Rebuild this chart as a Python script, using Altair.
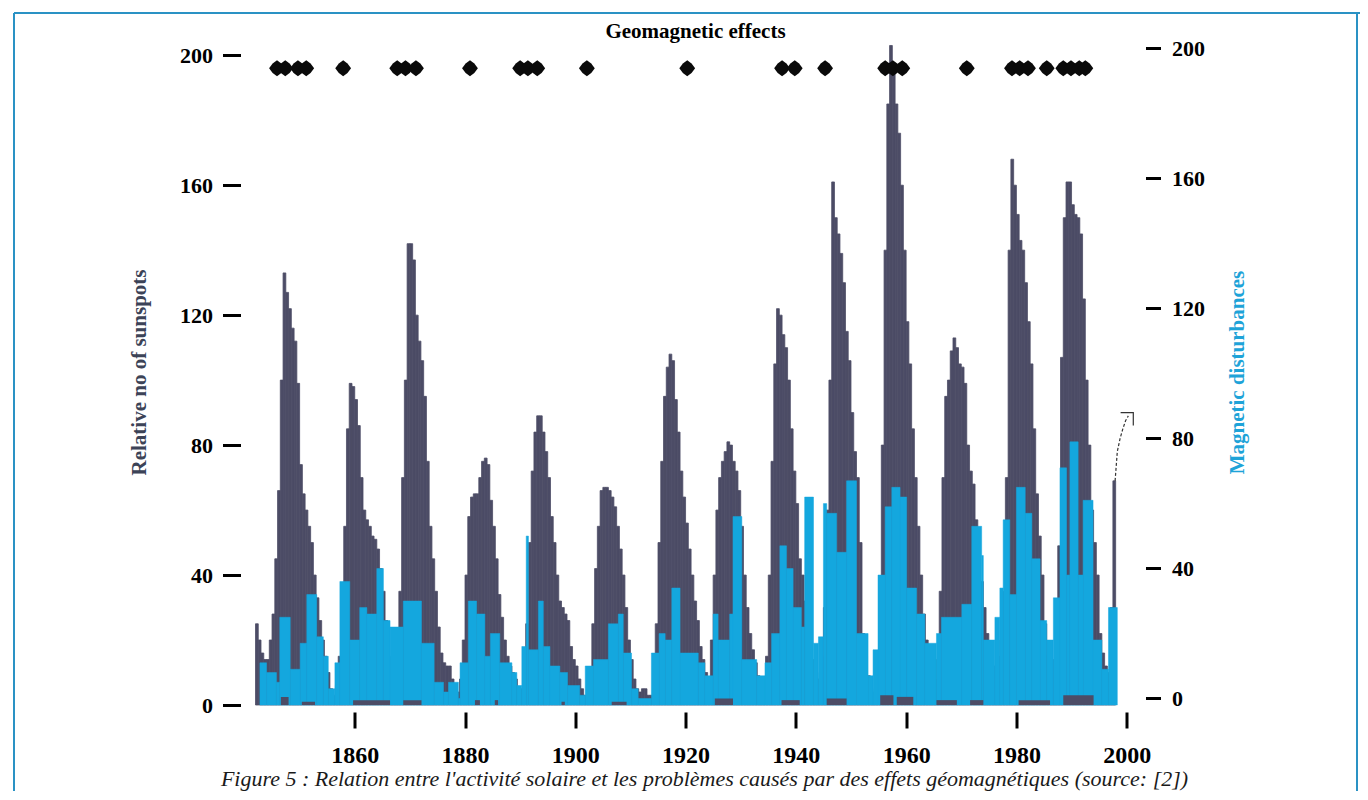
import altair as alt
import pandas as pd

SERIF = "Liberation Serif"
DARK = "#4c4c66"
CYAN = "#14a7de"
FRAME = "#2a92c4"

# Relative sunspot number, half-year steps starting 1842.0
SUN_START = 1842.0
SUN_STEP = 0.5
SUNSPOTS = [
    25, 20, 16, 14, 14, 20, 28, 45, 66, 100,        # 1842-1846.5
    133, 127, 122, 116, 112, 99, 74, 65, 60, 55,    # 1847
    50, 40, 33, 26, 20, 15, 10, 5, 3, 6,            # 1852
    15, 30, 55, 85, 99, 98, 94, 86, 70, 60,         # 1857
    57, 55, 52, 51, 48, 42, 35, 26, 15, 8,          # 1862
    6, 15, 35, 70, 100, 142, 142, 137, 120, 112,    # 1867
    106, 95, 75, 55, 45, 35, 24, 16, 13, 12,        # 1872
    12, 8, 4, 4, 8, 20, 40, 58, 64, 65,             # 1877
    65, 70, 75, 76, 74, 63, 55, 45, 34, 27,         # 1882
    20, 15, 12, 10, 8, 5, 5, 8, 25, 50,             # 1887
    72, 84, 89, 89, 84, 78, 70, 58, 50, 40,         # 1892
    32, 30, 28, 26, 18, 14, 12, 8, 5, 3,            # 1897
    3, 10, 25, 42, 55, 66, 67, 67, 66, 64,          # 1902
    61, 55, 48, 40, 30, 20, 14, 8, 5, 4,            # 1907
    5, 5, 3, 3, 12, 25, 50, 75, 95, 104,            # 1912
    108, 106, 94, 84, 72, 64, 56, 48, 40, 32,       # 1917
    26, 18, 14, 10, 8, 20, 40, 60, 70, 75,          # 1922
    78, 81, 80, 75, 72, 66, 55, 40, 30, 22,         # 1927
    17, 13, 9, 5, 6, 15, 40, 75, 105, 122,          # 1932
    120, 114, 110, 100, 85, 72, 62, 45, 40, 32,     # 1937
    25, 18, 14, 10, 8, 15, 30, 60, 100, 161,        # 1942
    150, 145, 139, 130, 115, 106, 90, 78, 70, 50,   # 1947
    22, 15, 9, 5, 4, 10, 30, 80, 140, 185,          # 1952
    203, 195, 185, 176, 160, 140, 118, 105, 85, 70, # 1957
    55, 40, 28, 20, 14, 10, 8, 14, 35, 70,          # 1962
    95, 100, 109, 113, 110, 105, 104, 99, 80, 72,   # 1967
    68, 57, 45, 38, 30, 22, 15, 12, 12, 15,         # 1972
    20, 35, 70, 140, 168, 160, 151, 143, 140, 130,  # 1977
    118, 105, 85, 65, 52, 40, 25, 15, 12, 14,       # 1982
    28, 49, 107, 150, 161, 161, 154, 151, 150, 145, # 1987
    125, 100, 80, 60, 50, 40, 22, 16, 12, 10,       # 1992
    30, 69,                                         # 1997
]

# Magnetic disturbances: step edges (years) and level of each step
CYAN_EDGES = [
    1842.8, 1844.0, 1845.8, 1846.4, 1848.3, 1850.1, 1851.3, 1853.1, 1854.3, 1855.2,
    1856.4, 1857.3, 1859.1, 1860.9, 1862.2, 1864.0, 1865.2, 1866.4, 1868.8, 1872.1,
    1874.4, 1876.1, 1877.0, 1878.8, 1879.1, 1880.6, 1882.1, 1883.6, 1884.6, 1886.3,
    1888.5, 1889.4, 1890.3, 1891.1, 1891.5, 1893.3, 1894.2, 1895.4, 1897.2, 1898.6,
    1900.8, 1901.8, 1903.3, 1906.0, 1907.8, 1908.7, 1910.2, 1911.4, 1913.8, 1915.2,
    1916.3, 1917.5, 1919.0, 1922.3, 1923.5, 1925.0, 1925.9, 1928.0, 1928.6, 1930.2,
    1932.9, 1934.4, 1935.6, 1937.1, 1938.3, 1939.5, 1941.0, 1941.6, 1943.2, 1944.1,
    1945.0, 1945.6, 1947.4, 1949.2, 1951.0, 1953.1, 1954.0, 1954.9, 1956.2, 1957.4,
    1958.9, 1960.1, 1961.9, 1963.4, 1965.5, 1966.4, 1970.1, 1971.9, 1973.7, 1974.0,
    1976.1, 1977.0, 1977.6, 1978.8, 1980.0, 1981.6, 1982.8, 1984.3, 1985.5, 1986.7,
    1987.9, 1989.1, 1989.7, 1991.2, 1992.1, 1993.9, 1995.5, 1996.7, 1998.3,
]
CYAN_VALUES = [
    13, 10, 7, 27, 11, 19, 34, 21, 15, 5,
    13, 38, 20, 30, 28, 42, 26, 24, 32, 19,
    7, 4, 7, 2, 13, 32, 28, 15, 22, 13,
    10, 6, 18, 52, 17, 32, 18, 12, 10, 6,
    3, 12, 14, 25, 28, 16, 5, 2, 16, 22,
    20, 36, 16, 13, 9, 28, 20, 28, 58, 14,
    9, 13, 22, 49, 42, 30, 24, 64, 19, 21,
    62, 59, 47, 69, 22, 9, 17, 40, 61, 67,
    64, 36, 28, 19, 22, 27, 31, 55, 46, 20,
    27, 36, 57, 34, 67, 59, 45, 26, 20, 33,
    73, 40, 81, 40, 63, 20, 11, 30,
]

# small dark steps at the foot of the cyan bars
BASE_FROM = [1846.6, 1850.4, 1859.7, 1868.8, 1881.8, 1885.4, 1897.5, 1906.6, 1925.3,
             1937.4, 1945.6, 1955.3, 1958.3, 1965.5, 1971.6, 1980.4, 1988.5]
BASE_TO = [1848.0, 1852.8, 1866.4, 1872.1, 1882.7, 1886.0, 1898.1, 1909.3, 1928.6,
           1940.7, 1949.2, 1957.7, 1961.3, 1969.2, 1974.0, 1986.1, 1994.0]
BASE_VALUE = [2.5, 1, 1.5, 1.5, 1.5, 1.5, 1, 1, 2, 1.5, 2, 3, 2.5, 1.5, 1.5, 1.5, 3]

# geomagnetic effects (years of events), drawn at one level
EFFECT_YEARS = [1845.9, 1847.4, 1849.7, 1851.2, 1857.9, 1867.7, 1869.2, 1871.1,
                1880.9, 1890.0, 1891.4, 1893.1, 1902.1, 1920.3, 1937.5, 1939.8,
                1945.3, 1956.2, 1957.6, 1959.3, 1971.0, 1979.2, 1980.6, 1982.1,
                1985.5, 1988.5, 1989.9, 1991.4, 1992.5]
EFFECT_LEVEL = 196

# forecast trace at the right end
FORECAST_YEARS = [1997.9, 1998.3, 1998.8, 1999.3, 1999.8, 2000.3]
FORECAST_VALUES = [69, 78, 82, 85, 87.5, 89]
HOOK_YEARS = [1998.9, 2001.2, 2001.2]
HOOK_VALUES = [90, 90, 86]

X_TICKS = [1860, 1880, 1900, 1920, 1940, 1960, 1980, 2000]
Y_TICKS = [0, 40, 80, 120, 160, 200]

TITLE_TEXT = "Geomagnetic effects"
CAPTION = ("Figure 5 : Relation entre l'activité solaire et les problèmes causés "
           "par des effets géomagnétiques (source: [2])")

W, H = 880, 666

sun_df = pd.DataFrame({
    "t": [SUN_START + i * SUN_STEP for i in range(len(SUNSPOTS))],
    "v": SUNSPOTS,
})
sun_df["t2"] = sun_df["t"] + SUN_STEP
sun_df["z"] = 0

cyan_df = pd.DataFrame({
    "t": CYAN_EDGES[:-1],
    "t2": CYAN_EDGES[1:],
    "v": CYAN_VALUES,
})
cyan_df["z"] = 0

base_df = pd.DataFrame({"t": BASE_FROM, "t2": BASE_TO, "v": BASE_VALUE})
base_df["z"] = 0

eff_df = pd.DataFrame({"t": EFFECT_YEARS, "v": [EFFECT_LEVEL] * len(EFFECT_YEARS)})
fc_df = pd.DataFrame({"t": FORECAST_YEARS, "v": FORECAST_VALUES,
                      "o": list(range(len(FORECAST_YEARS)))})
hook_df = pd.DataFrame({"t": HOOK_YEARS, "v": HOOK_VALUES,
                        "o": list(range(len(HOOK_YEARS)))})

xs = alt.Scale(domain=[1842, 2001.6], nice=False, zero=False)
ys = alt.Scale(domain=[0, 205], nice=False)

x_axis = alt.Axis(values=X_TICKS, format="d", title=None, offset=7, tickSize=16,
                  tickWidth=3, tickColor="black", domain=False, grid=False,
                  labelFont=SERIF, labelFontWeight="bold", labelFontSize=24,
                  labelColor="black", labelPadding=15)
y_axis = alt.Axis(values=Y_TICKS, title="Relative no of sunspots", offset=15,
                  tickSize=18, tickWidth=3, tickColor="black", domain=False,
                  grid=False, labelFont=SERIF, labelFontWeight="bold",
                  labelFontSize=22, labelColor="black", labelPadding=10,
                  titleFont=SERIF, titleFontWeight="bold", titleFontSize=21,
                  titleColor="#3c4357", titlePadding=30)

X = alt.X("t:Q", scale=xs, axis=x_axis)
Y = alt.Y("v:Q", scale=ys, axis=y_axis)

sun = alt.Chart(sun_df).mark_rect(color=DARK, stroke=DARK, strokeWidth=0.8).encode(
    x=X, x2="t2:Q", y=Y, y2="z:Q")

cyan = alt.Chart(cyan_df).mark_rect(color=CYAN, stroke=CYAN, strokeWidth=0.5).encode(
    x=X, x2="t2:Q", y=Y, y2="z:Q")

base = alt.Chart(base_df).mark_rect(color=DARK).encode(
    x=X, x2="t2:Q", y=Y, y2="z:Q")

forecast = alt.Chart(fc_df).mark_line(color="#333333", strokeWidth=1.2,
                                      strokeDash=[3, 2]).encode(
    x=X, y=Y, order="o:Q")
hook = alt.Chart(hook_df).mark_line(color="#333333", strokeWidth=1.2).encode(
    x=X, y=Y, order="o:Q")

BLOB = "M0,-1 L0.55,-0.6 L1,0 L0.55,0.6 L0,1 L-0.55,0.6 L-1,0 L-0.55,-0.6 Z"
effects = alt.Chart(eff_df).mark_point(shape=BLOB, filled=True, color="#0a0a0a",
                                       size=250, opacity=1).encode(x=X, y=Y)

one = alt.Data(values=[{}])
title_mark = alt.Chart(one).mark_text(text=TITLE_TEXT, font=SERIF, fontWeight="bold",
                                      fontSize=21, color="black", align="center",
                                      baseline="middle").encode(
    x=alt.value(W / 2), y=alt.value(-7))
caption_mark = alt.Chart(one).mark_text(text=CAPTION, font=SERIF, fontStyle="italic",
                                        fontSize=22, color="#1a1a1a", align="center",
                                        baseline="alphabetic").encode(
    x=alt.value(449), y=alt.value(747))

frame_top = alt.Chart(one).mark_rule(color=FRAME, strokeWidth=2).encode(
    x=alt.value(-241.5), x2=alt.value(1112.5), y=alt.value(-26))
frame_left = alt.Chart(one).mark_rule(color=FRAME, strokeWidth=2).encode(
    x=alt.value(-241.5), y=alt.value(-26), y2=alt.value(770))
frame_right = alt.Chart(one).mark_rule(color=FRAME, strokeWidth=2).encode(
    x=alt.value(1101.5), y=alt.value(-26), y2=alt.value(770))

main = alt.layer(sun, cyan, base, forecast, hook, effects, title_mark, caption_mark,
                 frame_top, frame_left, frame_right)

right_axis = alt.Chart(alt.Data(values=[{"m": 0}, {"m": 200}])).mark_point(opacity=0).encode(
    y=alt.Y("m:Q", scale=alt.Scale(domain=[-2.15, 202.85], nice=False),
            axis=alt.Axis(orient="right", values=Y_TICKS, title="Magnetic disturbances",
                          offset=10, tickSize=15, tickWidth=3, tickColor="black",
                          domain=False, grid=False, labelFont=SERIF,
                          labelFontWeight="bold", labelFontSize=22,
                          labelColor="black", labelPadding=11, titleFont=SERIF,
                          titleFontWeight="bold", titleFontSize=21,
                          titleColor="#1ea3d8", titlePadding=22, titleAngle=270,
                          titleBaseline="top")),
)

chart = alt.layer(main, right_axis).resolve_scale(y="independent").properties(
    width=W, height=H,
    padding={"left": 247.5, "top": 31, "right": 224, "bottom": 86},
    autosize=alt.AutoSizeParams(type="none"),
    background="white",
).configure_view(stroke=None)

chart.save("out.html", embed_options={"renderer": "svg", "actions": False})
